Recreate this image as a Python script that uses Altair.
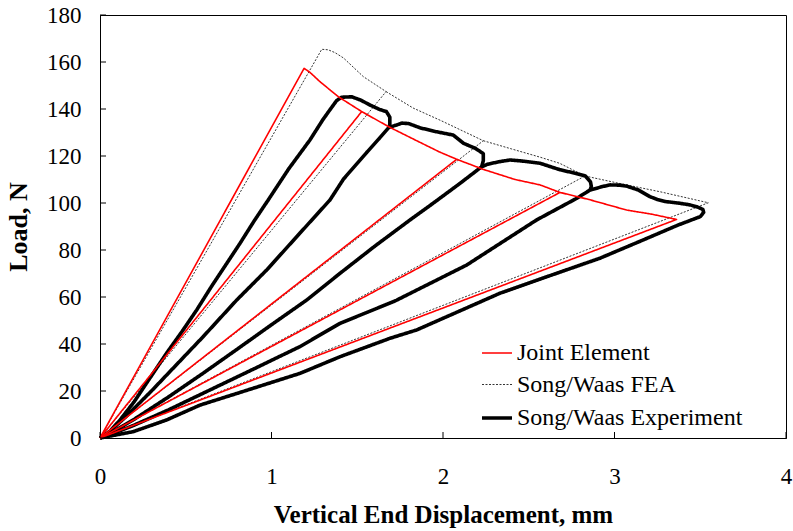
import altair as alt
import pandas as pd

SERIES = ["Joint Element", "Song/Waas FEA", "Song/Waas Experiment"]
X_TICKS = [0, 1, 2, 3, 4]
Y_TICKS = [0, 20, 40, 60, 80, 100, 120, 140, 160, 180]

# Joint Element: load -> soften -> unload to origin, per cycle
JE_X = [
    [0, 1.19, 1.224, 1.283, 1.39, 1.526, 0],
    [1.526, 1.69, 1.866, 1.98, 2.08, 0],
    [2.08, 2.235, 2.42, 2.566, 2.682, 0],
    [2.682, 2.85, 3.071, 3.22, 3.362, 0],
]
JE_Y = [
    [0, 157.3, 155.6, 151.6, 145.2, 138.9, 0],
    [138.9, 132.2, 125.8, 121.7, 118.6, 0],
    [118.6, 114.3, 110.0, 107.7, 104.5, 0],
    [104.5, 101.5, 97.0, 95.2, 93.0, 0],
]

# Song/Waas FEA
FEA_X = [
    [0, 1.293, 1.33, 1.37, 1.42, 1.535, 1.668, 0],
    [1.668, 1.826, 1.99, 2.235, 0],
    [2.235, 2.40, 2.566, 2.68, 2.828, 0],
    [2.828, 3.05, 3.265, 3.547, 0],
]
FEA_Y = [
    [0, 165.4, 165.2, 164.0, 161.7, 153.8, 147.4, 0],
    [147.4, 140.4, 135.0, 126.5, 0],
    [126.5, 123.0, 119.5, 116.9, 111.5, 0],
    [111.5, 108.0, 104.8, 100.1, 0],
]

# Song/Waas Experiment
EXP_X = [
    [0, 0.06, 0.117, 0.2, 0.272, 0.389, 0.48, 0.564, 0.65, 0.739, 0.816, 0.9, 0.981, 1.10, 1.224,
     1.30, 1.34, 1.38, 1.409, 1.467, 1.52, 1.574, 1.63, 1.67, 1.69, 1.69, 1.685,
     1.63, 1.555, 1.42, 1.341, 1.166, 0.972, 0.797, 0.6, 0.45, 0.3, 0.15, 0.06, 0],
    [1.685, 1.73, 1.76, 1.80, 1.866, 1.95, 2.06, 2.12, 2.19, 2.235, 2.235, 2.225,
     2.10, 1.95, 1.808, 1.60, 1.40, 1.205, 1.0, 0.8, 0.6, 0.4, 0.2, 0.08, 0],
    [2.225, 2.26, 2.33, 2.39, 2.47, 2.566, 2.68, 2.78, 2.83, 2.86, 2.865, 2.857,
     2.78, 2.546, 2.138, 1.72, 1.40, 1.166, 0.9, 0.6, 0.4, 0.2, 0.08, 0],
    [2.857, 2.93, 2.974, 3.03, 3.07, 3.14, 3.207, 3.25, 3.30, 3.38, 3.44, 3.48, 3.515, 3.52, 3.50,
     3.37, 3.168, 2.915, 2.62, 2.332, 1.847, 1.69, 1.40, 1.166, 0.8, 0.583, 0.389, 0.194, 0],
]
EXP_Y = [
    [0, 3, 7.7, 15.5, 23.4, 36.2, 45.5, 54.5, 64.5, 74.3, 82.8, 92.5, 101.3, 114.5, 126.8,
     135.5, 139.6, 143.6, 145.0, 145.2, 143.8, 141.7, 139.8, 138.9, 136.5, 133.5, 132.2,
     127.6, 121.5, 110.2, 101.3, 87.2, 71.5, 58.7, 43, 31.5, 20, 9, 3, 0],
    [132.2, 133.2, 134.0, 133.8, 132.0, 130.5, 128.9, 125.4, 123.2, 121.0, 118.0, 115.4,
     108.4, 100.3, 92.8, 81.5, 70.1, 58.7, 48.2, 37.8, 27.5, 17.5, 8, 2.8, 0],
    [115.4, 116.5, 117.6, 118.3, 117.8, 116.9, 114.2, 112.5, 111.5, 109, 107, 105.5,
     102, 92.8, 73.6, 58.3, 48.8, 38.9, 29.5, 19, 12, 5.5, 2, 0],
    [105.5, 107.0, 107.7, 107.6, 107.2, 105.5, 102.7, 101.5, 100.6, 99.9, 99.2, 98.4, 97.3, 96.0, 94.2,
     90.6, 84.3, 76.5, 69, 61.6, 46, 42.4, 34.6, 27.5, 19.0, 14.0, 7.7, 2.7, 0],
]

rows = []
for name, XS, YS in [(SERIES[2], EXP_X, EXP_Y), (SERIES[1], FEA_X, FEA_Y), (SERIES[0], JE_X, JE_Y)]:
    for s, (xs, ys) in enumerate(zip(XS, YS)):
        for i, (x, y) in enumerate(zip(xs, ys)):
            rows.append(dict(series=name, seg=f"{name}-{s}", order=i, x=x, y=y))
df = pd.DataFrame(rows)

FONT = "Liberation Serif"
xscale = alt.Scale(domain=[0, 4], nice=False, zero=False)
yscale = alt.Scale(domain=[0, 180], nice=False, zero=False)

xaxis = alt.Axis(
    values=X_TICKS, title="Vertical End Displacement, mm", format="d",
    ticks=False, tickSize=0, labelPadding=27, titlePadding=14,
    labelFont=FONT, labelFontSize=23, titleFont=FONT, titleFontSize=25,
    titleFontWeight="bold", labelFlush=False, domainColor="black", domainWidth=1)
yaxis = alt.Axis(
    values=Y_TICKS, title="Load, N", format="d",
    ticks=False, tickSize=0, labelPadding=19, titlePadding=15,
    labelFont=FONT, labelFontSize=23, titleFont=FONT, titleFontSize=26,
    titleFontWeight="bold", labelFlush=False, domainColor="black", domainWidth=1)

legend = alt.Legend(
    orient="none", legendX=380, legendY=322, title=None, symbolType="stroke",
    symbolSize=900, labelFont=FONT, labelFontSize=24, labelColor="black",
    rowPadding=4, padding=0, labelOffset=3, labelLimit=0,
)

lines = alt.Chart(df).mark_line(strokeJoin="round", strokeCap="butt", opacity=1).encode(
    x=alt.X("x:Q", scale=xscale, axis=xaxis),
    y=alt.Y("y:Q", scale=yscale, axis=yaxis),
    color=alt.Color("series:N", sort=SERIES,
                    scale=alt.Scale(domain=SERIES, range=["#ff0000", "#000000", "#000000"]), legend=legend),
    strokeDash=alt.StrokeDash("series:N", sort=SERIES,
                              scale=alt.Scale(domain=SERIES, range=[[1, 0], [2, 1.5], [1, 0]]), legend=legend),
    strokeWidth=alt.StrokeWidth("series:N", sort=SERIES,
                                scale=alt.Scale(type="ordinal", domain=SERIES, range=[1.6, 0.8, 3.6]), legend=legend),
    detail="seg:N",
    order="order:Q",
)

yticks = alt.Chart(pd.DataFrame({"y": Y_TICKS})).mark_rule(color="black", strokeWidth=1).encode(
    y=alt.Y("y:Q", scale=yscale, axis=yaxis), x=alt.value(0), x2=alt.value(6))
xticks = alt.Chart(pd.DataFrame({"x": X_TICKS})).mark_rule(color="black", strokeWidth=1).encode(
    x=alt.X("x:Q", scale=xscale, axis=xaxis), y=alt.value(423), y2=alt.value(417))

chart = alt.layer(lines, yticks, xticks).properties(
    width=686, height=423,
    autosize=alt.AutoSizeParams(type="none"),
    padding={"left": 100, "top": 15, "right": 7, "bottom": 93},
    background="white",
).configure_view(stroke="black", strokeWidth=1).configure_axis(grid=False, labelColor="black", titleColor="black")

chart.save("out.html", embed_options={"renderer": "svg", "actions": False})
